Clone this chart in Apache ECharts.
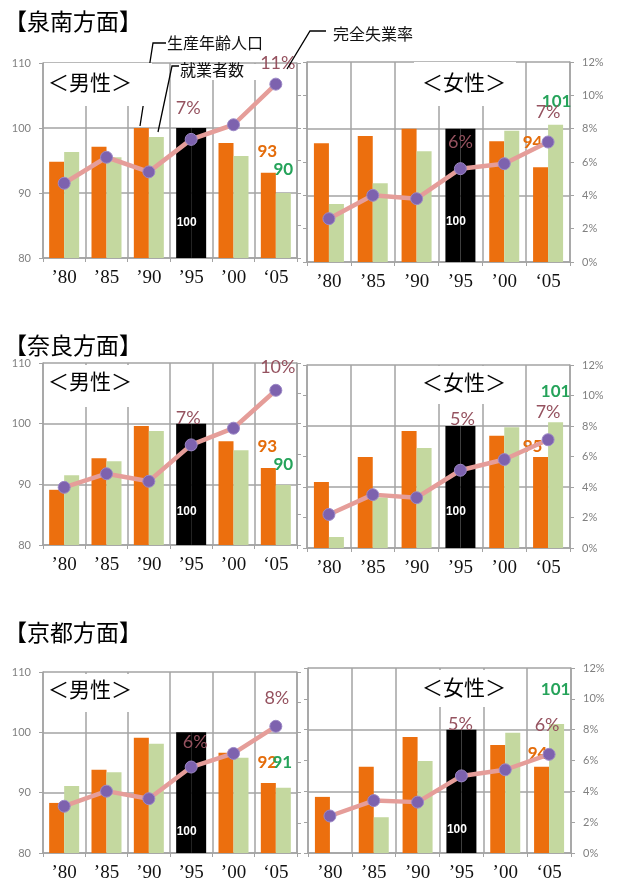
<!DOCTYPE html>
<html>
<head>
<meta charset="utf-8">
<script src="https://cdn.jsdelivr.net/npm/echarts@6/dist/echarts.min.js"></script>
<style>
  html, body { margin: 0; padding: 0; background: #fff; }
  #c { width: 622px; height: 883px; }
</style>
</head>
<body>
<div id="c"></div>
<script>
// Categories
const years = ['’80', '’85', '’90', '’95', '’00', '‘05'];
const areaTitles = ['【泉南方面】', '【奈良方面】', '【京都方面】'];
const sexTitles = ['＜男性＞', '＜女性＞'];

// Index values ('95 = 100): 生産年齢人口 / 就業者数, and 完全失業率 (%)
const senanMaleWork   = [94.8, 97.1, 100.0, 100, 97.7, 93.1];
const senanMaleEmp    = [96.3, 95.5, 98.6, 100, 95.7, 90.0];
const senanMaleUnemp  = [4.6, 6.2, 5.3, 7.3, 8.2, 10.7];
const senanFemWork    = [97.8, 98.9, 100.0, 100, 98.1, 94.2];
const senanFemEmp     = [88.7, 91.8, 96.6, 100, 99.7, 100.6];
const senanFemUnemp   = [2.6, 4.0, 3.8, 5.6, 5.9, 7.2];

const naraMaleWork    = [89.1, 94.3, 99.6, 100, 97.1, 92.7];
const naraMaleEmp     = [91.5, 93.8, 98.8, 100, 95.6, 89.9];
const naraMaleUnemp   = [3.8, 4.7, 4.2, 6.6, 7.7, 10.2];
const naraFemWork     = [90.8, 94.9, 99.2, 100, 98.4, 94.9];
const naraFemEmp      = [81.8, 88.3, 96.4, 100, 99.8, 100.6];
const naraFemUnemp    = [2.2, 3.5, 3.3, 5.1, 5.8, 7.1];

const kyotoMaleWork   = [88.3, 93.8, 99.1, 100, 96.6, 91.6];
const kyotoMaleEmp    = [91.1, 93.4, 98.1, 100, 95.8, 90.8];
const kyotoMaleUnemp  = [3.1, 4.1, 3.6, 5.7, 6.6, 8.4];
const kyotoFemWork    = [89.1, 94.0, 98.8, 100, 97.5, 94.0];
const kyotoFemEmp     = [80.0, 85.8, 94.9, 100, 99.5, 100.9];
const kyotoFemUnemp   = [2.4, 3.4, 3.3, 5.0, 5.4, 6.4];

// Index axis ticks and rate axis ticks
const indexTicks = { min: 80, max: 110, interval: 10 };
const rateTicks  = { min: 0, max: 12, interval: 2 };

const C = {
  orange: '#ec6f0e', green: '#c4d89f', black: '#000000',
  line: '#e59d99', marker: '#7d62ae', markerEdge: '#9c88c6',
  pct: '#95525f', oLab: '#e46c0a', gLab: '#25a35a',
  grid: '#a3a3a3', axisText: '#808080'
};
const FONT_NUM = 'Lato, "Open Sans", sans-serif';
const FONT_JP = '"Noto Sans CJK JP", sans-serif';
const FONT_X = '"Liberation Serif", "DejaVu Serif", serif';

const panelData = [
  { work: senanMaleWork, emp: senanMaleEmp, rate: senanMaleUnemp, female: false },
  { work: senanFemWork,  emp: senanFemEmp,  rate: senanFemUnemp,  female: true },
  { work: naraMaleWork,  emp: naraMaleEmp,  rate: naraMaleUnemp,  female: false },
  { work: naraFemWork,   emp: naraFemEmp,   rate: naraFemUnemp,   female: true },
  { work: kyotoMaleWork, emp: kyotoMaleEmp, rate: kyotoMaleUnemp, female: false },
  { work: kyotoFemWork,  emp: kyotoFemEmp,  rate: kyotoFemUnemp,  female: true }
];

// Panel geometry and label placement (dx, dy of label centre from the mark)
const panelLayout = [
  { grid: { left: 43,  top: 63,  width: 254, height: 195 },
    p95: [-3, -31], p05: [2, -21], o05: [-1, -21], g05: [0, -23], in100: 35,
    box: [44, 63, 108, 43], boxTitle: [90, 82] },
  { grid: { left: 307, top: 62,  width: 263, height: 200 },
    p95: [0, -26], p05: [0, -30], o05: [-8, -25], g05: [1, -23], in100: 40,
    box: [414, 62, 102, 44], boxTitle: [464, 82] },
  { grid: { left: 43,  top: 363, width: 254, height: 182 },
    p95: [-3, -27], p05: [2, -23], o05: [-1, -21], g05: [0, -20], in100: 33,
    box: [44, 365, 106, 42], boxTitle: [90, 381] },
  { grid: { left: 307, top: 365, width: 263, height: 183 },
    p95: [2, -51], p05: [0, -28], o05: [-8, -11], g05: [0, -31], in100: 36,
    box: [418, 366, 106, 38], boxTitle: [464, 382] },
  { grid: { left: 43,  top: 672, width: 254, height: 181 },
    p95: [4, -25], p05: [1, -28], o05: [-1, -20], g05: [-1, -25], in100: 21,
    box: [44, 674, 106, 38], boxTitle: [90, 689] },
  { grid: { left: 308, top: 668, width: 263, height: 187 },
    p95: [-1, -52], p05: [-2, -29], o05: [-4, -13], g05: [-1, -35], in100: 23,
    box: [410, 670, 112, 37], boxTitle: [464, 687] }
];
const titleY = [21, 345, 632];

const grids = [], xAxes = [], yAxes = [], series = [];
const axisLineStyle = { color: C.grid, width: 1.5 };

panelData.forEach((pd, i) => {
  const L = panelLayout[i];
  grids.push(Object.assign({ containLabel: false }, L.grid));

  xAxes.push({
    gridIndex: i, type: 'category', data: years, boundaryGap: true,
    axisLine: { show: true, lineStyle: axisLineStyle },
    axisTick: { show: true, length: 4, lineStyle: { color: C.grid } },
    axisLabel: { interval: 0, color: '#111', fontSize: 19, fontFamily: FONT_X, margin: 11 },
    splitLine: { show: true, interval: 0, lineStyle: { color: C.grid, width: 1.5 } }
  });

  const barAxisIdx = yAxes.length;
  yAxes.push({
    gridIndex: i, type: 'value', position: 'left',
    min: indexTicks.min, max: indexTicks.max, interval: indexTicks.interval,
    axisLine: { show: true, lineStyle: axisLineStyle },
    axisTick: { show: !pd.female, length: 4, lineStyle: { color: C.grid } },
    axisLabel: { show: !pd.female, color: C.axisText, fontSize: 11, fontFamily: FONT_NUM, margin: 12 },
    splitLine: { show: true, lineStyle: { color: C.grid, width: 1.5 } }
  });
  const rateAxisIdx = yAxes.length;
  yAxes.push({
    gridIndex: i, type: 'value', position: 'right',
    min: rateTicks.min, max: rateTicks.max, interval: rateTicks.interval,
    axisLine: { show: true, lineStyle: axisLineStyle },
    axisTick: { show: true, length: 4, lineStyle: { color: C.grid } },
    axisLabel: { show: pd.female, formatter: '{value}%', color: C.axisText, fontSize: 11, fontFamily: FONT_NUM, margin: 12 },
    splitLine: { show: false }
  });
  if (pd.female) {
    // tick marks on the left edge of the female panel
    yAxes.push({
      gridIndex: i, type: 'value', position: 'left',
      min: rateTicks.min, max: rateTicks.max, interval: rateTicks.interval,
      axisLine: { show: false },
      axisTick: { show: true, length: 4, lineStyle: { color: C.grid } },
      axisLabel: { show: false }, splitLine: { show: false }
    });
  }

  const FS = 17;
  const topLabel = (off, color) => ({
    show: true, position: 'top', distance: 0,
    offset: [off[0], off[1] + FS / 2],
    color: color, fontSize: FS, fontWeight: 'bold', fontFamily: FONT_NUM,
    formatter: p => String(Math.round(p.value))
  });

  const workData = pd.work.map((v, k) => {
    if (k === 3) {
      return {
        value: v, itemStyle: { color: C.black },
        label: {
          show: true, position: 'insideBottom', distance: L.in100 - 6, offset: [3, 0],
          color: '#fff', fontSize: 12, fontWeight: 'bold', fontFamily: '"Liberation Sans", sans-serif',
          formatter: p => String(Math.round(p.value))
        }
      };
    }
    if (k === 5) return { value: v, label: topLabel(L.o05, C.oLab) };
    return v;
  });
  const empData = pd.emp.map((v, k) => {
    if (k === 3) return { value: v, itemStyle: { color: C.black } };
    if (k === 5) return { value: v, label: topLabel(L.g05, C.gLab) };
    return v;
  });

  series.push({
    name: '生産年齢人口', type: 'bar', xAxisIndex: i, yAxisIndex: barAxisIdx,
    data: workData, barWidth: 15, barGap: '0%', z: 2,
    itemStyle: { color: C.orange }, label: { show: false }
  });
  series.push({
    name: '就業者数', type: 'bar', xAxisIndex: i, yAxisIndex: barAxisIdx,
    data: empData, barWidth: 15, barGap: '0%', z: 2,
    itemStyle: { color: C.green }, label: { show: false }
  });

  const pctLabel = off => ({
    show: true, position: 'inside', offset: off,
    color: C.pct, fontSize: 18, fontFamily: FONT_NUM,
    formatter: p => Math.round(p.value) + '%'
  });
  series.push({
    name: '完全失業率', type: 'line', xAxisIndex: i, yAxisIndex: rateAxisIdx,
    data: pd.rate.map((v, k) => k === 3 ? { value: v, label: pctLabel(L.p95) }
                               : k === 5 ? { value: v, label: pctLabel(L.p05) } : v),
    symbol: 'circle', symbolSize: 12, z: 5,
    lineStyle: { color: C.line, width: 4.5 },
    itemStyle: { color: C.marker, borderColor: C.markerEdge, borderWidth: 1 },
    label: { show: false }
  });
});

// Titles, panel captions and callouts
const graphics = [];
areaTitles.forEach((t, r) => {
  graphics.push({
    type: 'text', z: 101,
    style: { text: t, x: 4, y: titleY[r], font: '23px ' + FONT_JP, fill: '#000',
             textAlign: 'left', align: 'left', textVerticalAlign: 'middle', verticalAlign: 'middle' }
  });
});

// leader for 生産年齢人口 sits beneath the caption box
graphics.push({
  type: 'polyline', z: 99,
  shape: { points: [[166, 43], [153, 43], [140, 126]] },
  style: { stroke: '#000', lineWidth: 1.3, fill: null }
});

panelLayout.forEach((L, i) => {
  graphics.push({
    type: 'rect', z: 100,
    shape: { x: L.box[0], y: L.box[1], width: L.box[2], height: L.box[3] },
    style: { fill: '#fff' }
  });
  graphics.push({
    type: 'text', z: 101,
    style: { text: sexTitles[i % 2], x: L.boxTitle[0], y: L.boxTitle[1],
             font: '21px ' + FONT_JP, fill: '#000',
             textAlign: 'center', align: 'center', textVerticalAlign: 'middle', verticalAlign: 'middle' }
  });
});

// backing for the 就業者数 caption
graphics.push({ type: 'rect', z: 100, shape: { x: 175, y: 64, width: 84, height: 16 }, style: { fill: '#fff' } });

const callouts = [
  { text: '生産年齢人口', x: 167, y: 43 },
  { text: '就業者数', x: 180, y: 70 },
  { text: '完全失業率', x: 333, y: 34 }
];
callouts.forEach(c => {
  graphics.push({
    type: 'text', z: 101,
    style: { text: c.text, x: c.x, y: c.y, font: '16px ' + FONT_JP, fill: '#111',
             textAlign: 'left', align: 'left', textVerticalAlign: 'middle', verticalAlign: 'middle' }
  });
});
graphics.push({
  type: 'polyline', z: 101,
  shape: { points: [[179, 66], [172, 66], [158, 132]] },
  style: { stroke: '#000', lineWidth: 1.3, fill: null }
});
graphics.push({
  type: 'polyline', z: 101,
  shape: { points: [[326, 31], [310, 31], [287, 69]] },
  style: { stroke: '#000', lineWidth: 1.3, fill: null }
});

const chart = echarts.init(document.getElementById('c'), null, { renderer: 'canvas' });
chart.setOption({
  animation: false,
  backgroundColor: '#fff',
  grid: grids,
  xAxis: xAxes,
  yAxis: yAxes,
  series: series,
  graphic: graphics
});
</script>
</body>
</html>
